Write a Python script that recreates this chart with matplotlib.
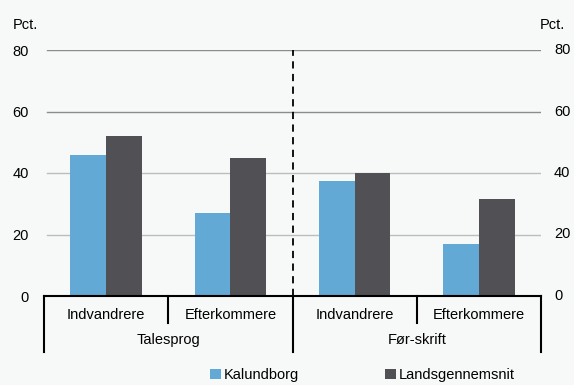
import matplotlib
matplotlib.use("Agg")
import matplotlib.pyplot as plt
import matplotlib.transforms as mtransforms
from matplotlib.patches import Patch
import numpy as np

plt.rcParams["font.family"] = ["Liberation Sans", "DejaVu Sans"]

# ---- data ----
groups = ["Talesprog", "Før-skrift"]
subcats = ["Indvandrere", "Efterkommere", "Indvandrere", "Efterkommere"]
kalundborg = [46, 27, 37.5, 17]
landsgns = [52, 45, 40, 31.5]
series_names = ["Kalundborg", "Landsgennemsnit"]
yticks = [0, 20, 40, 60, 80]

BG = "#f7f8f8"
BLUE = "#62a9d5"
DARK = "#505055"
GRID_DARK = "#8c8c8c"
GRID_LIGHT = "#bdbdbd"
FS = 10.5

fig = plt.figure(figsize=(5.74, 3.85), dpi=100, facecolor=BG)
ax = fig.add_axes([44 / 574, 1 - 296 / 385, 497 / 574, 246 / 385])
ax.set_facecolor(BG)

x = np.arange(len(subcats))
w = 0.287
ax.bar(x - w / 2, kalundborg, width=w, color=BLUE, zorder=3)
ax.bar(x + w / 2, landsgns, width=w, color=DARK, zorder=3)

ax.set_xlim(-0.5, len(subcats) - 0.5)
ax.set_ylim(0, 80)
ax.set_yticks(yticks)

# gridlines (upper ones a bit darker, as in the reference)
for t in yticks[1:]:
    ax.axhline(t, xmin=0.006, color=GRID_DARK if t >= 60 else GRID_LIGHT,
               lw=1.0, zorder=1)

# dashed divider between the two groups
ax.axvline(1.5, color="black", lw=1.3, ls=(0, (4, 3)), zorder=4)

for s in ("top", "right", "left"):
    ax.spines[s].set_visible(False)
ax.spines["bottom"].set_color("black")
ax.spines["bottom"].set_linewidth(1.5)
ax.spines["bottom"].set_zorder(5)

ax.set_xticks([])
ax.tick_params(axis="y", length=0, labelsize=FS, pad=11)

# right-hand tick labels
rtrans = mtransforms.blended_transform_factory(ax.transAxes, ax.transData)
for t in yticks:
    ax.text(1 + 13 / 497, t, f"{t}", transform=rtrans, ha="left",
            va="center", fontsize=FS)

# category axis with two levels
trans = mtransforms.blended_transform_factory(ax.transData, ax.transAxes)
inner_bot = -0.11
outer_bot = -0.228
for xi in [0.5, 2.5]:
    ax.plot([xi, xi], [0, inner_bot], color="black", lw=1.5, transform=trans,
            clip_on=False)
for xi in [-0.5, 1.5, 3.5]:
    ax.plot([xi, xi], [0, outer_bot], color="black", lw=1.5, transform=trans,
            clip_on=False)
for xi, lab in zip(x, subcats):
    ax.text(xi, -0.077, lab, transform=trans, ha="center", va="center",
            fontsize=FS)
for gi, lab in enumerate(groups):
    ax.text(0.5 + 2 * gi, -0.179, lab, transform=trans, ha="center",
            va="center", fontsize=FS)

fig.text(13 / 574, 1 - 25 / 385, "Pct.", fontsize=FS, va="center", ha="left")
fig.text(540 / 574, 1 - 25 / 385, "Pct.", fontsize=FS, va="center", ha="left")

handles = [Patch(facecolor=BLUE), Patch(facecolor=DARK)]
fig.legend(handles, series_names, loc="center left",
           bbox_to_anchor=(210 / 574, 1 - 375 / 385), ncol=2, frameon=False,
           fontsize=FS, handlelength=0.75, handleheight=0.75,
           handletextpad=0.2, columnspacing=5.9, borderaxespad=0,
           borderpad=0)

fig.savefig("out.png", dpi=100, facecolor=BG)
